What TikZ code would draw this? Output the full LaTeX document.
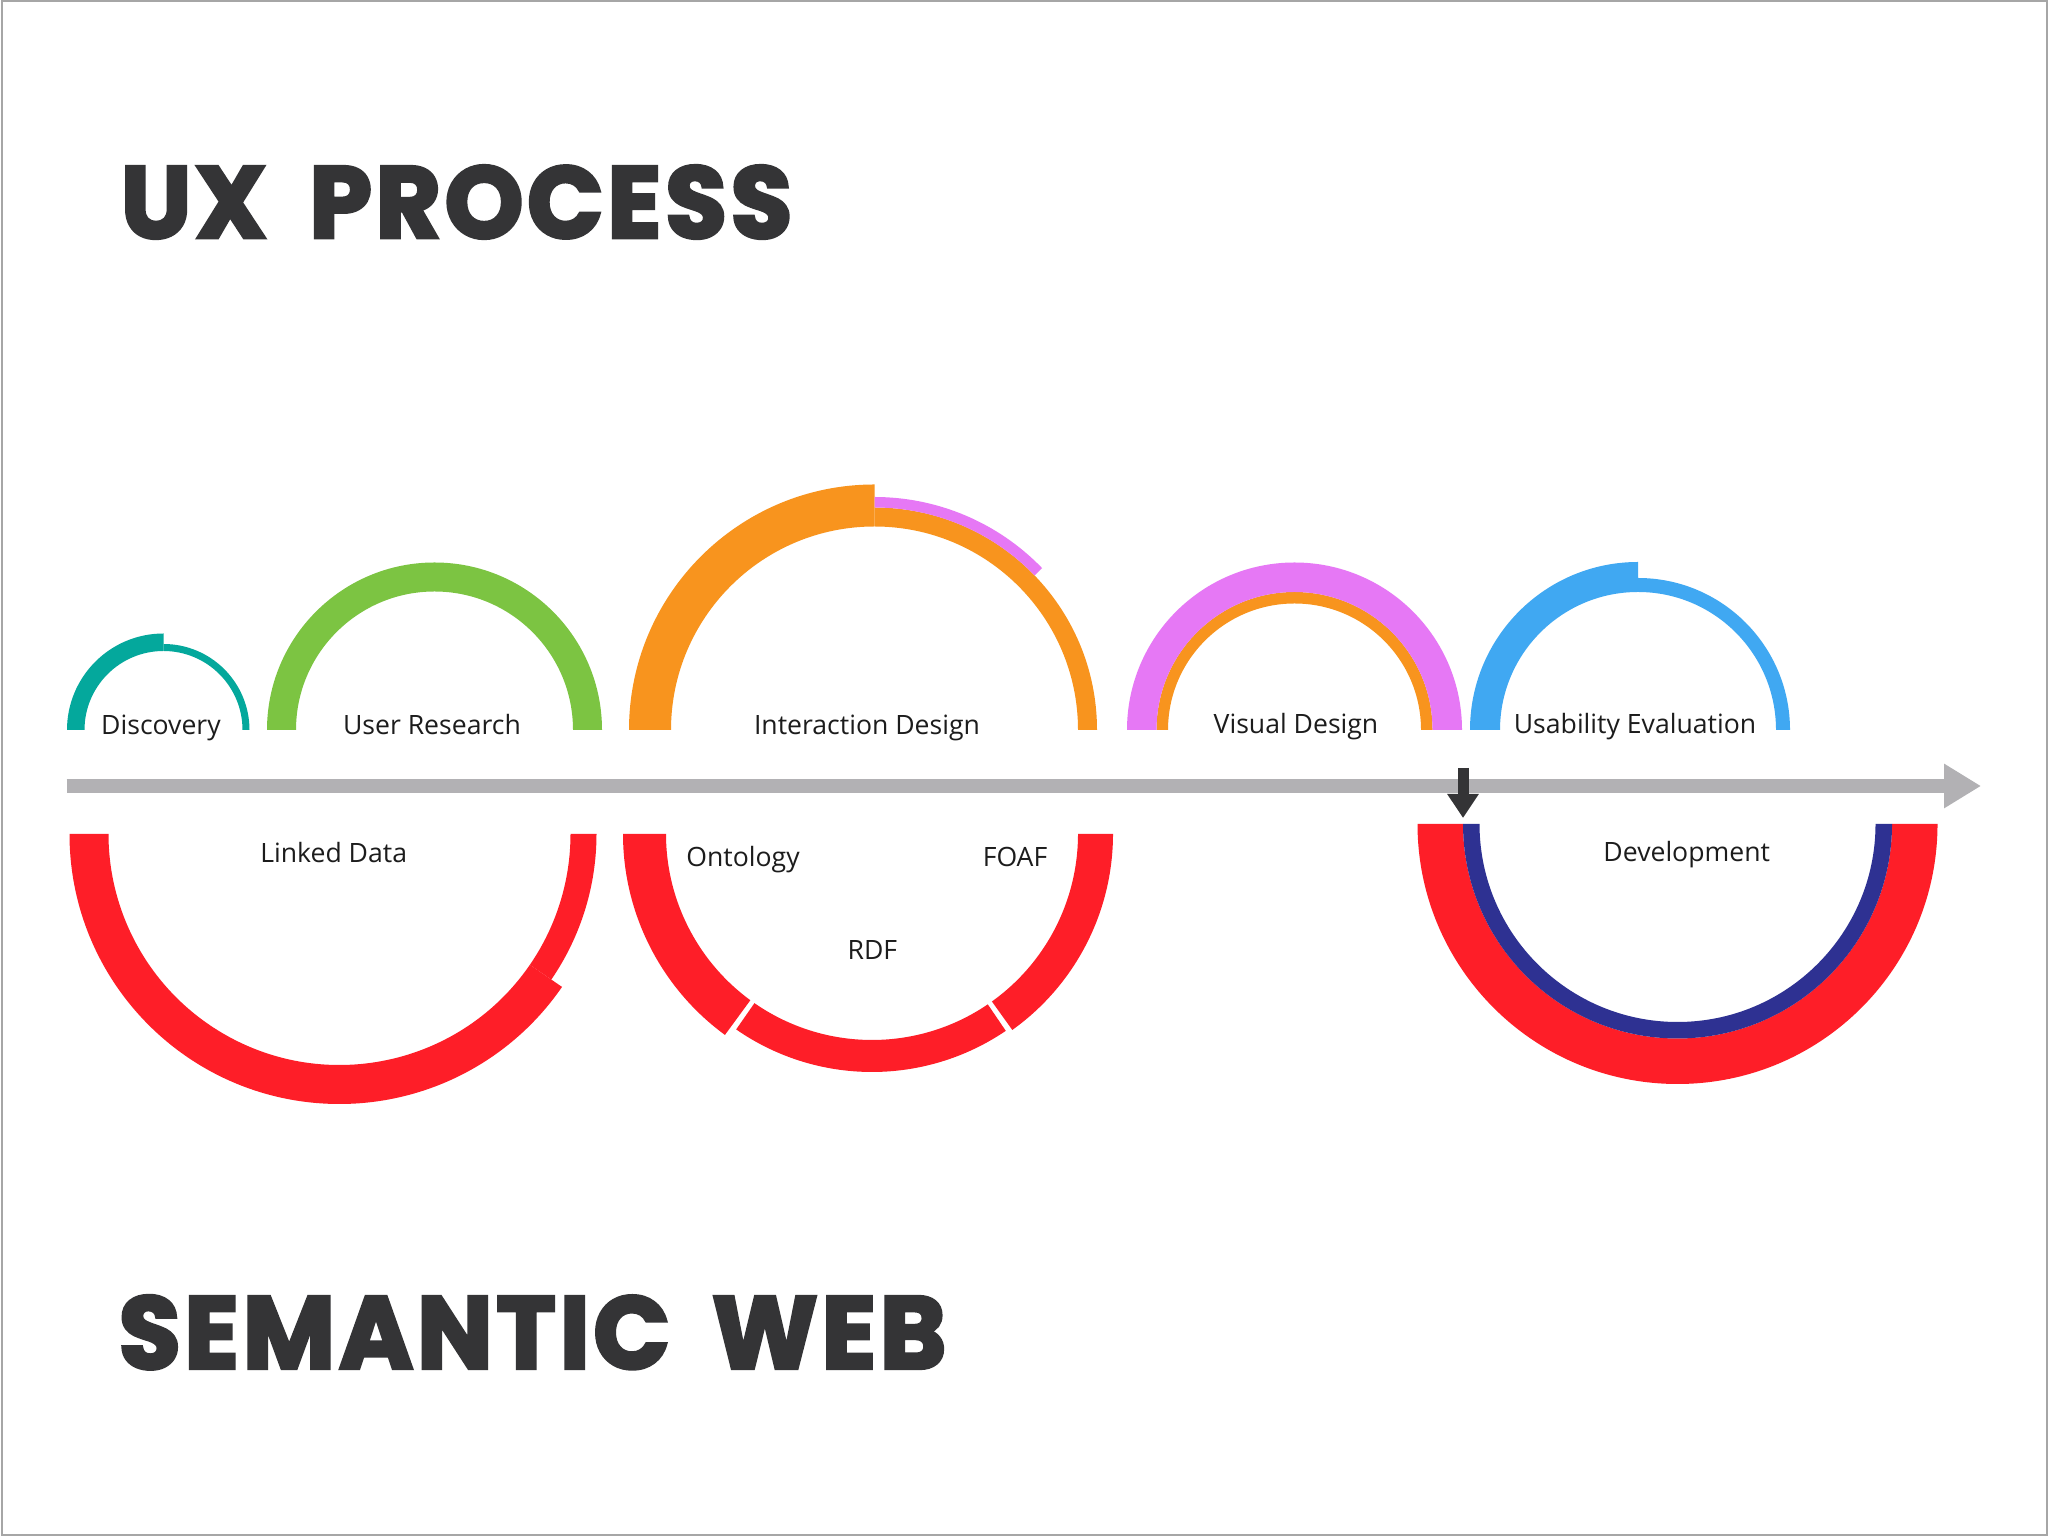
\documentclass[tikz,border=0pt]{standalone}
\usepackage{graphicx}
\usepackage{fontspec}
\setmainfont{Open Sans}
\newfontfamily\titlefont{Poppins}[BoldFeatures={FakeBold=3.5,LetterSpace=4}]
\usetikzlibrary{arrows.meta,calc}
\definecolor{cTeal}{RGB}{4,168,156}
\definecolor{cGreen}{RGB}{124,196,66}
\definecolor{cOrange}{RGB}{248,148,30}
\definecolor{cPink}{RGB}{230,120,245}
\definecolor{cBlue}{RGB}{64,168,242}
\definecolor{cRed}{RGB}{254,30,40}
\definecolor{cNavy}{RGB}{46,49,146}
\definecolor{cGrey}{RGB}{178,177,180}
\definecolor{cDark}{RGB}{52,52,54}
\definecolor{cText}{RGB}{28,28,28}
\newcommand\annsec[6]{% colour, centre, start, end, inner r, outer r
  \fill[#1] ($(#2)+(#3:#6)$) arc[start angle=#3,end angle=#4,radius=#6]
    -- ($(#2)+(#4:#5)$) arc[start angle=#4,end angle=#3,radius=#5] -- cycle;}
\tikzset{
  lbl/.style={anchor=base, inner sep=0pt, text=cText, font=\fontsize{13.3}{15}\selectfont},
  ttl/.style={anchor=base west, inner sep=0pt, text=cDark},
  axisline/.style={draw=cGrey, line width=7pt, -{Triangle[length=18.5pt,width=21pt]}},
  markarrow/.style={draw=cDark, line width=5.5pt, -{Triangle[length=12pt,width=15pt]}}
}
\begin{document}
\begin{tikzpicture}[x=0.5pt,y=0.5pt]
\useasboundingbox (0,0) rectangle (2048,1536);
\fill[white] (0,0) rectangle (2048,1536);
\draw[gray!70, line width=1pt] (1.5,1.5) rectangle (2046.5,1534.5);

% titles
\node[ttl] (uxT) at (120.5,1298.3) {\resizebox{335.5pt}{36pt}{\titlefont\bfseries UX\hspace{0.43em}PROCESS}};
\node[ttl] (swT) at (118.5,167.6) {\resizebox{413.5pt}{36.4pt}{\titlefont\bfseries SEMANTIC\hspace{0.42em}WEB}};

% centres
\coordinate (cDisc) at (163.5,806);
\coordinate (cUser) at (434.5,806);
\coordinate (cInter) at (874.5,806);
\coordinate (cVis) at (1294.5,806);
\coordinate (cUsab) at (1638,806);
\coordinate (cLink) at (339.5,702);
\coordinate (cOnto) at (872,702);
\coordinate (cDev) at (1677.5,712);

% upper arcs
\annsec{cTeal}{cDisc}{90}{180}{79}{96.5}
\annsec{cTeal}{cDisc}{0}{90}{79}{86}
\annsec{cGreen}{cUser}{0}{180}{138.5}{167.5}
\annsec{cOrange}{cInter}{90}{180}{203.5}{245.5}
\annsec{cOrange}{cInter}{0}{90}{203.5}{222.5}
\annsec{cPink}{cInter}{44}{90}{222.5}{233}
\annsec{cOrange}{cVis}{0}{180}{126.5}{138}
\annsec{cPink}{cVis}{0}{180}{138}{167.5}
\annsec{cBlue}{cUsab}{90}{180}{138}{168}
\annsec{cBlue}{cUsab}{0}{90}{138}{152}

% lower arcs
\annsec{cRed}{cLink}{180}{325.5}{231}{270}
\annsec{cRed}{cLink}{325.5}{360}{231}{257}
\annsec{cRed}{cOnto}{180}{233.8}{206}{249}
\annsec{cRed}{cOnto}{235.2}{304.2}{206}{238}
\annsec{cRed}{cOnto}{305.6}{360}{206}{241}
\annsec{cRed}{cDev}{180}{360}{214.5}{260}
\annsec{cNavy}{cDev}{180}{360}{198}{214.5}

% axis and marker
\coordinate (axS) at (66.6,750);
\coordinate (axE) at (1981,750);
\draw[axisline] (axS) -- (axE);
\coordinate (mkS) at (1463,768);
\coordinate (mkE) at (1463,718);
\draw[markarrow] (mkS) -- (mkE);

% labels
\node[lbl] (lDisc) at (161,801) {Discovery};
\node[lbl] (lUser) at (432,801) {User Research};
\node[lbl] (lInter) at (867,801) {Interaction Design};
\node[lbl] (lVis) at (1296,802) {Visual Design};
\node[lbl] (lUsab) at (1635,802) {Usability Evaluation};
\node[lbl] (lLink) at (333.7,673) {Linked Data};
\node[lbl] (lOnto) at (743,669) {Ontology};
\node[lbl] (lFoaf) at (1015,669) {FOAF};
\node[lbl] (lRdf) at (872.4,576) {RDF};
\node[lbl] (lDev) at (1686.7,674.3) {Development};
\end{tikzpicture}
\end{document}
